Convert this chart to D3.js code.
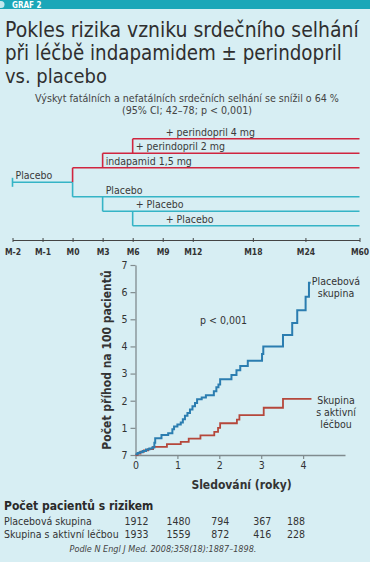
<!DOCTYPE html>
<html>
<head>
<meta charset="utf-8">
<script src="https://cdn.jsdelivr.net/npm/d3@7"></script>
<style>
  body { margin: 0; background: #d7eef3; }
  svg { display: block; }
  text { font-family: "Liberation Sans Narrow", "DejaVu Sans Condensed", "Roboto", sans-serif; fill: #333; }
</style>
</head>
<body>
<div id="chart"></div>
<script>

// ---- data ----
var titleLines = ["Pokles rizika vzniku srdečního selhání", "při léčbě indapamidem ± perindopril", "vs. placebo"];
var subtitleLines = ["Výskyt fatálních a nefatálních srdečních selhání se snížil o 64 %", "(95% CI; 42–78; p < 0,001)"];

// study design timeline
var timeTicks = ["M-2", "M-1", "M0", "M3", "M6", "M9", "M12", "M18", "M24", "M60"];
var timeSlots = [0, 1, 2, 3, 4, 5, 6, 8, 9.75, 11.55];
var armNames = ["Placebo", "indapamid 1,5 mg", "+ perindopril 2 mg", "+ perindopril 4 mg", "Placebo", "+ Placebo", "+ Placebo"];
var armStart = ["M-2", "M0", "M3", "M6", "M0", "M3", "M6"];
var armLabelAt = ["M-2", "M3", "M6", "M9", "M3", "M6", "M9"];
var armRow = [0, 1, 2, 3, -1, -2, -3];
var armGroup = ["placebo", "active", "active", "active", "placebo", "placebo", "placebo"];

// cumulative events (years, events per 100 patients)
var placeboT = [0, 0.05, 0.1, 0.17, 0.25, 0.33, 0.4, 0.45, 0.47, 0.62, 0.78, 0.88, 0.92, 1.0, 1.08, 1.13, 1.18, 1.24, 1.3, 1.36, 1.42, 1.47, 1.58, 1.68, 1.87, 1.93, 1.98, 2.02, 2.29, 2.41, 2.5, 2.68, 3.02, 3.05, 3.52, 3.74, 3.86, 4.06, 4.14, 4.18];
var placeboV = [0.03, 0.07, 0.1, 0.15, 0.2, 0.24, 0.28, 0.45, 0.62, 0.74, 0.8, 0.95, 1.05, 1.12, 1.2, 1.32, 1.45, 1.55, 1.68, 1.8, 1.92, 2.05, 2.12, 2.2, 2.35, 2.5, 2.6, 2.79, 2.95, 3.12, 3.28, 3.47, 3.72, 4.0, 4.42, 4.86, 5.33, 5.83, 6.35, 6.35];
var activeT = [0, 0.05, 0.12, 0.2, 0.3, 0.42, 0.75, 1.08, 1.27, 1.55, 1.88, 1.97, 2.02, 2.42, 2.48, 3.06, 3.52, 4.2];
var activeV = [0, 0.05, 0.12, 0.17, 0.22, 0.3, 0.4, 0.48, 0.6, 0.72, 0.85, 1.0, 1.17, 1.3, 1.47, 1.74, 2.07, 2.07];

var yTickValues = [0, 1, 2, 3, 4, 5, 6, 7];
var yTickLabels = ["7", "1", "2", "3", "4", "5", "6", "7"];
var xTickValues = [0, 1, 2, 3, 4];

// patients at risk
var riskGroups = ["Placebová skupina", "Skupina s aktivní léčbou"];
var riskPlacebo = [1912, 1480, 794, 367, 188];
var riskActive = [1933, 1559, 872, 416, 228];

var citation = "Podle N Engl J Med. 2008;358(18):1887–1898.";

// ---- colours ----
var teal = "#35b4c6", red = "#d0253f";
var blueLine = "#2b7db0", redLine = "#b5473b";
var axisGray = "#808b8e";

var width = 370, height = 562;

var svg = d3.select("#chart").append("svg")
    .attr("width", width)
    .attr("height", height);

svg.append("rect").attr("width", width).attr("height", height).attr("fill", "#d7eef3");

// header bar
svg.append("rect").attr("x", 0).attr("y", 0).attr("width", width).attr("height", 9).attr("fill", "#1ba7b8");
svg.append("circle").attr("cx", 1).attr("cy", 4.5).attr("r", 3.5).attr("fill", "#c4e8ee");
svg.append("text").attr("x", 12).attr("y", 8)
    .style("font-size", "8px").style("font-weight", "bold").style("fill", "#fff")
    .text("GRAF 2");

// scale a text's font so that it is about as wide as in the original
function fitWidth(sel, base, target) {
  sel.style("font-size", base + "px");
  var w = sel.node().getComputedTextLength();
  var size = w > 0 ? base * target / w : base;
  sel.style("font-size", size.toFixed(2) + "px");
  return size;
}

// title
var titleWidths = [354, 337, 102];
svg.selectAll(".title")
    .data(titleLines)
  .enter().append("text")
    .attr("class", "title")
    .attr("x", 5)
    .attr("y", function(d, i) { return 37 + i * 23; })
    .style("fill", "#2f2f2f")
    .text(function(d) { return d; })
    .each(function(d, i) { fitWidth(d3.select(this), 22, titleWidths[i]); });

// subtitle: both lines share the size fitted on the first one
var sub = svg.selectAll(".subtitle")
    .data(subtitleLines)
  .enter().append("text")
    .attr("class", "subtitle")
    .attr("x", 187)
    .attr("y", function(d, i) { return 102 + i * 12; })
    .attr("text-anchor", "middle")
    .style("fill", "#444")
    .text(function(d) { return d; });
var subSize = fitWidth(d3.select(sub.nodes()[0]), 10.5, 304);
sub.style("font-size", subSize.toFixed(2) + "px");

// ---- study design timeline ----
var tx = d3.scaleLinear().domain([0, d3.max(timeSlots)]).range([12.5, 359.5]);
var slotOf = function(name) { return tx(timeSlots[timeTicks.indexOf(name)]); };
var ty = d3.scaleLinear().domain([-3, 3]).range([225.8, 138.8]);
var groupColor = function(g) { return g === "active" ? red : teal; };

var tl = svg.append("g");

var timeAxis = d3.axisBottom(tx)
    .tickValues(timeSlots)
    .tickFormat(function(d, i) { return timeTicks[i]; })
    .tickSizeInner(3)
    .tickSizeOuter(0);

var tAxisG = tl.append("g")
    .attr("transform", "translate(0,240)")
    .call(timeAxis);
tAxisG.select(".domain").attr("stroke", "#444").attr("stroke-width", 1);
tAxisG.selectAll(".tick line").attr("stroke", "#444").attr("y1", -2).attr("y2", 2);
tAxisG.selectAll(".tick text")
    .attr("y", 9)
    .style("font-size", "8.5px").style("font-weight", "bold")
    .style("font-family", "'Liberation Sans Narrow', 'DejaVu Sans Condensed', sans-serif")
    .attr("fill", "#333");

armNames.forEach(function(name, i) {
  var c = groupColor(armGroup[i]);
  var x0 = slotOf(armStart[i]);
  var x1 = armRow[i] === 0 ? slotOf("M0") : slotOf("M60");
  var y = ty(armRow[i]);
  // horizontal arm
  tl.append("line")
      .attr("x1", x0).attr("x2", x1)
      .attr("y1", y).attr("y2", y)
      .attr("stroke", c).attr("stroke-width", 1.6);
  // connector from previous step
  var prev = armRow[i] === 0 ? null : (armRow[i] > 0 ? armRow[i] - 1 : armRow[i] + 1);
  tl.append("line")
      .attr("x1", x0).attr("x2", x0)
      .attr("y1", prev === null ? y - 4.5 : ty(prev))
      .attr("y2", prev === null ? y + 4.5 : y)
      .attr("stroke", c).attr("stroke-width", 1.6);
  tl.append("text")
      .attr("x", slotOf(armLabelAt[i]) + 3)
      .attr("y", y - 3)
      .style("font-size", "10.5px")
      .style("fill", "#3a3a3a")
      .text(name);
});

// ---- cumulative events chart ----
var x = d3.scaleLinear().domain([0, 5]).range([135.5, 345]);
var y = d3.scaleLinear().domain([0, 7]).range([455, 265]);

var xAxisG = svg.append("g")
    .attr("transform", "translate(0,455)")
    .call(d3.axisBottom(x).tickValues(xTickValues).tickFormat(d3.format("d"))
      .tickSizeInner(4).tickSizeOuter(0).tickPadding(3));
var yAxisG = svg.append("g")
    .attr("transform", "translate(135.5,0)")
    .call(d3.axisLeft(y).tickValues(yTickValues)
      .tickFormat(function(d, i) { return yTickLabels[i]; })
      .tickSizeInner(5).tickSizeOuter(0).tickPadding(3));

[xAxisG, yAxisG].forEach(function(g) {
  g.select(".domain").attr("stroke", axisGray).attr("stroke-width", 1.3);
  g.selectAll(".tick line").attr("stroke", axisGray).attr("stroke-width", 1.2);
  g.selectAll(".tick text")
      .style("font-size", "10.5px")
      .style("font-family", "'Liberation Sans Narrow', 'DejaVu Sans Condensed', sans-serif")
      .attr("fill", "#333");
});

var step = d3.line()
    .curve(d3.curveStepAfter)
    .x(function(d) { return x(d[0]); })
    .y(function(d) { return y(d[1]); });

var activeData = activeT.map(function(t, i) { return [t, activeV[i]]; });
var placeboData = placeboT.map(function(t, i) { return [t, placeboV[i]]; });

svg.append("path")
    .datum(activeData)
    .attr("d", step)
    .attr("fill", "none")
    .attr("stroke", redLine)
    .attr("stroke-width", 1.8);

svg.append("path")
    .datum(placeboData)
    .attr("d", step)
    .attr("fill", "none")
    .attr("stroke", blueLine)
    .attr("stroke-width", 2);

// axis titles
svg.append("text")
    .attr("transform", "translate(107," + y(3.5) + ") rotate(-90)")
    .attr("text-anchor", "middle")
    .attr("dy", "0.35em")
    .style("font-size", "12px").style("font-weight", "bold")
    .style("fill", "#333")
    .text("Počet příhod na 100 pacientů");

svg.append("text")
    .attr("x", 241.5).attr("y", 489)
    .attr("text-anchor", "middle")
    .style("font-size", "12px").style("font-weight", "bold")
    .style("fill", "#333")
    .text("Sledování (roky)");

svg.append("text")
    .attr("x", x(2.1)).attr("y", y(4.95))
    .attr("text-anchor", "middle")
    .attr("dy", "0.35em")
    .style("font-size", "10.5px")
    .text("p < 0,001");

// series labels
var seriesLabels = [["Placebová", "skupina"], ["Skupina", "s aktivní", "léčbou"]];
var seriesLabelTop = [6.4, 2.0];
seriesLabels.forEach(function(lines, k) {
  svg.append("g").selectAll("text")
      .data(lines)
    .enter().append("text")
      .attr("x", 336)
      .attr("y", function(d, i) { return y(seriesLabelTop[k]) + i * 12; })
      .attr("dy", "0.35em")
      .attr("text-anchor", "middle")
      .style("font-size", "10.5px")
      .style("fill", "#333")
      .text(function(d) { return d; });
});

// ---- patients at risk table ----
svg.append("text")
    .attr("x", 4).attr("y", 510)
    .style("font-size", "12px").style("font-weight", "bold")
    .style("fill", "#2a2a2a")
    .text("Počet pacientů s rizikem");

[riskPlacebo, riskActive].forEach(function(row, r) {
  var ry = 524.5 + r * 13;
  svg.append("text")
      .attr("x", 4).attr("y", ry)
      .style("font-size", "10.5px")
      .text(riskGroups[r]);
  svg.append("g").selectAll("text")
      .data(row)
    .enter().append("text")
      .attr("x", function(d, i) { return x(xTickValues[i]) + 1 - (i === 4 ? 8 : 0); })
      .attr("y", ry)
      .attr("text-anchor", "middle")
      .style("font-size", "10.5px")
      .text(function(d) { return d; });
});

svg.append("text")
    .attr("x", 163).attr("y", 552)
    .attr("text-anchor", "middle")
    .style("font-size", "9px").style("font-style", "italic")
    .style("fill", "#444")
    .text(citation);

</script>
</body>
</html>
